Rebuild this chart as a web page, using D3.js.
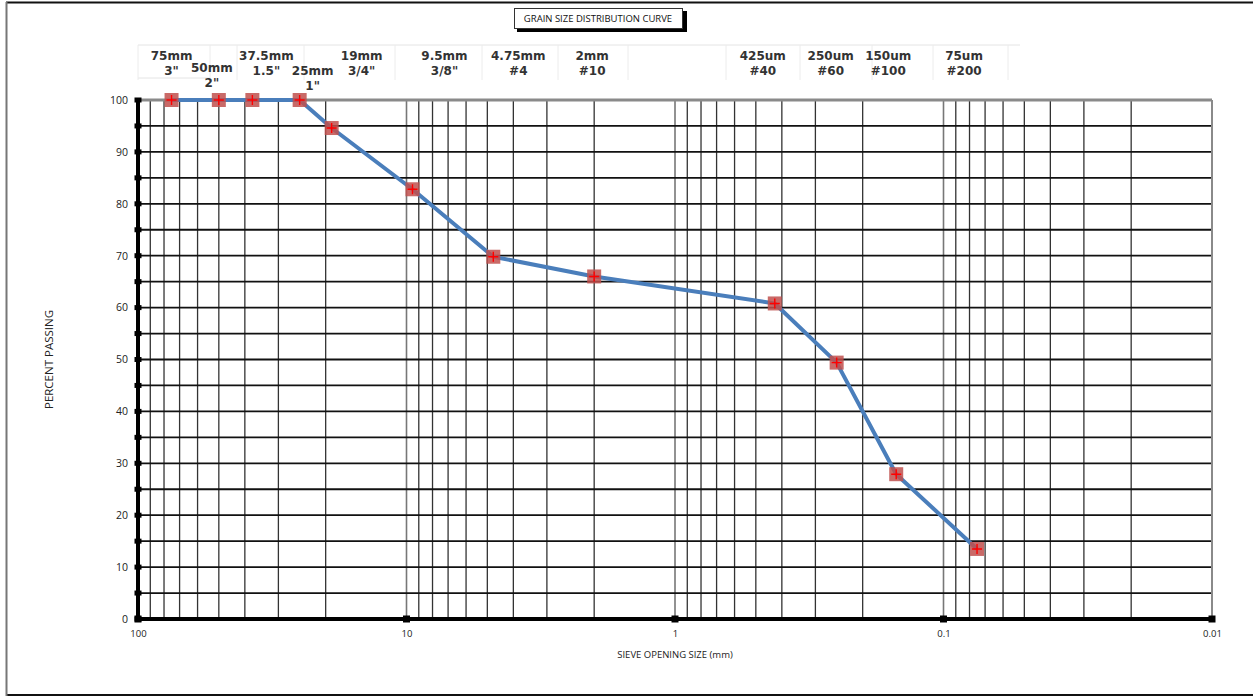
<!DOCTYPE html>
<html>
<head>
<meta charset="utf-8">
<script src="https://cdn.jsdelivr.net/npm/d3@7"></script>
<style>
  body { margin: 0; background: #fff; }
  svg { display: block; font-family: Lato, "Open Sans", sans-serif; }
</style>
</head>
<body>
<svg id="chart" width="1253" height="697"></svg>
<script>
// sieve openings (mm) and percent passing
const sieveSizes = [75, 50, 37.5, 25, 19, 9.5, 4.75, 2, 0.425, 0.25, 0.15, 0.075];
const percentPassing = [100, 100, 100, 100, 94.6, 82.8, 69.8, 66.0, 60.8, 49.4, 27.9, 13.5];

// header labels above the plot
const sieveNames = ['75mm', '50mm', '37.5mm', '25mm', '19mm', '9.5mm', '4.75mm', '2mm', '425um', '250um', '150um', '75um'];
const sieveNumbers = ['3"', '2"', '1.5"', '1"', '3/4"', '3/8"', '#4', '#10', '#40', '#60', '#100', '#200'];

const xTickValues = [100, 10, 1, 0.1, 0.01];
const yTickValues = d3.range(0, 101, 10);

const svg = d3.select('#chart');

// layout
const margin = { top: 100, right: 41, bottom: 78, left: 138 };
const width = 1253, height = 697;
const innerW = width - margin.left - margin.right;
const innerH = height - margin.top - margin.bottom;

// header label nudges (the header in the original is offset from the sieve positions)
const headerDx = [0, -7, 14, 13, 30, 32, 25, -2, -12, -6, -8, -13];
const headerDy = [0, 12, 0, 15, 0, 0, 0, 0, 0, 0, 0, 0];

const x = d3.scaleLog().domain([100, 0.01]).range([margin.left, margin.left + innerW]);
const y = d3.scaleLinear().domain([0, 100]).range([margin.top + innerH, margin.top]);

// outer frame
svg.append('line').attr('x1', 6).attr('x2', 1253).attr('y1', 2.5).attr('y2', 2.5)
  .attr('stroke', '#111').attr('stroke-width', 2);
svg.append('line').attr('x1', 6).attr('x2', 1253).attr('y1', 695).attr('y2', 695)
  .attr('stroke', '#111').attr('stroke-width', 2);
svg.append('line').attr('x1', 6.5).attr('x2', 6.5).attr('y1', 2).attr('y2', 696)
  .attr('stroke', '#777').attr('stroke-width', 2);

// title box with shadow
const title = svg.append('g').attr('transform', 'translate(514,8)');
title.append('rect').attr('x', 3).attr('y', 3).attr('width', 170).attr('height', 21).attr('fill', '#000');
title.append('rect').attr('x', 0.5).attr('y', 0.5).attr('width', 168).attr('height', 20)
  .attr('fill', '#fff').attr('stroke', '#333').attr('stroke-width', 1);
title.append('text').attr('x', 84).attr('y', 14).attr('text-anchor', 'middle')
  .attr('font-size', 9.5).attr('font-family', '"Open Sans", sans-serif').attr('fill', '#111')
  .text('GRAIN SIZE DISTRIBUTION CURVE');

// faint header table
const header = svg.append('g');
header.append('line').attr('x1', 138).attr('x2', 1020).attr('y1', 45).attr('y2', 45)
  .attr('stroke', '#e4e4e4');
header.append('line').attr('x1', 138).attr('x2', 210).attr('y1', 78).attr('y2', 78)
  .attr('stroke', '#e4e4e4');
[138, 210, 237, 304, 395, 482, 558, 628, 726, 800, 872, 933, 1008].forEach(px => {
  header.append('line').attr('x1', px).attr('x2', px).attr('y1', 45).attr('y2', 80)
    .attr('stroke', '#ececec');
});

const headerLabels = header.selectAll('g.sieve')
  .data(sieveSizes)
  .join('g')
  .attr('class', 'sieve')
  .attr('transform', (d, i) => `translate(${x(d) + headerDx[i]},${60 + headerDy[i]})`)
  .attr('font-family', '"DejaVu Sans", Verdana, sans-serif')
  .attr('font-weight', 'bold')
  .attr('font-size', 12)
  .attr('fill', '#333')
  .attr('text-anchor', 'middle');
headerLabels.append('text').text((d, i) => sieveNames[i]);
headerLabels.append('text').attr('y', 15).text((d, i) => sieveNumbers[i]);

// grid
const grid = svg.append('g');
const minorX = [];
[10, 1, 0.1, 0.01].forEach(dec => {
  for (let k = 2; k <= 9; k++) minorX.push(dec * k);
});
grid.selectAll('line.vx')
  .data(minorX)
  .join('line')
  .attr('class', 'vx')
  .attr('x1', d => x(d)).attr('x2', d => x(d))
  .attr('y1', y(100)).attr('y2', y(0))
  .attr('stroke', '#333').attr('stroke-width', 1.3);
grid.selectAll('line.vmaj')
  .data([10, 1, 0.1])
  .join('line')
  .attr('class', 'vmaj')
  .attr('x1', d => x(d)).attr('x2', d => x(d))
  .attr('y1', y(100)).attr('y2', y(0))
  .attr('stroke', '#777').attr('stroke-width', 1.6);
grid.selectAll('line.hy')
  .data(d3.range(5, 100, 5))
  .join('line')
  .attr('class', 'hy')
  .attr('x1', margin.left).attr('x2', margin.left + innerW)
  .attr('y1', d => y(d)).attr('y2', d => y(d))
  .attr('stroke', '#111').attr('stroke-width', 1.8);

// plot border (top and right)
grid.append('line').attr('x1', margin.left).attr('x2', margin.left + innerW)
  .attr('y1', y(100)).attr('y2', y(100)).attr('stroke', '#8a8a8a').attr('stroke-width', 3);
grid.append('line').attr('x1', x(0.01)).attr('x2', x(0.01))
  .attr('y1', y(100)).attr('y2', y(0)).attr('stroke', '#8a8a8a').attr('stroke-width', 2);

// axes
const yAxis = svg.append('g')
  .attr('transform', `translate(${margin.left},0)`)
  .call(d3.axisLeft(y).tickValues(yTickValues).tickSize(0).tickSizeOuter(0).tickPadding(10));
yAxis.select('.domain').remove();
yAxis.append('line').attr('x1', 0).attr('x2', 0).attr('y1', y(100)).attr('y2', y(0))
  .attr('stroke', '#000').attr('stroke-width', 4);
yAxis.selectAll('.tick text').attr('font-size', 10.5).attr('fill', '#222')
  .attr('font-family', '"Open Sans", sans-serif');
yAxis.selectAll('rect.mk')
  .data(d3.range(0, 101, 5))
  .join('rect')
  .attr('class', 'mk')
  .attr('x', -3.5).attr('y', d => y(d) - 2.5)
  .attr('width', 7).attr('height', 5).attr('fill', '#000');

const xAxis = svg.append('g')
  .attr('transform', `translate(0,${y(0)})`)
  .call(d3.axisBottom(x).tickValues(xTickValues).tickFormat(d3.format('')).tickSize(0).tickSizeOuter(0).tickPadding(11));
xAxis.select('.domain').remove();
xAxis.append('line').attr('x1', x(100)).attr('x2', x(0.01)).attr('y1', 0).attr('y2', 0)
  .attr('stroke', '#000').attr('stroke-width', 4);
xAxis.selectAll('.tick text').attr('font-size', 9.5).attr('fill', '#222')
  .attr('font-family', '"Open Sans", sans-serif');
xAxis.selectAll('rect.mk')
  .data(xTickValues)
  .join('rect')
  .attr('class', 'mk')
  .attr('x', d => x(d) - 3.5).attr('y', -3.5)
  .attr('width', 7).attr('height', 7).attr('fill', '#000');

// axis titles
svg.append('text')
  .attr('transform', `translate(53,${(y(0) + y(100)) / 2}) rotate(-90)`)
  .attr('text-anchor', 'middle').attr('font-size', 11.5).attr('fill', '#222')
  .attr('font-family', '"Open Sans", sans-serif')
  .text('PERCENT PASSING');
svg.append('text')
  .attr('x', x(1)).attr('y', 658)
  .attr('text-anchor', 'middle').attr('font-size', 9.5).attr('fill', '#222')
  .attr('font-family', '"Open Sans", sans-serif')
  .text('SIEVE OPENING SIZE (mm)');

// gradation curve
const points = sieveSizes.map((s, i) => [s, percentPassing[i]]);
svg.append('path')
  .datum(points)
  .attr('fill', 'none')
  .attr('stroke', '#4a7ebb')
  .attr('stroke-width', 4)
  .attr('stroke-linejoin', 'round')
  .attr('d', d3.line().x(d => x(d[0])).y(d => y(d[1])));

const markers = svg.selectAll('g.pt')
  .data(points)
  .join('g')
  .attr('class', 'pt')
  .attr('transform', d => `translate(${x(d[0])},${y(d[1])})`);
markers.append('rect')
  .attr('x', -7).attr('y', -7).attr('width', 14).attr('height', 14)
  .attr('fill', '#c0504d').attr('fill-opacity', 0.85);
markers.append('path')
  .attr('d', 'M-5,0H5M0,-5V5')
  .attr('stroke', '#ff0000').attr('stroke-width', 1.4);
</script>
</body>
</html>
